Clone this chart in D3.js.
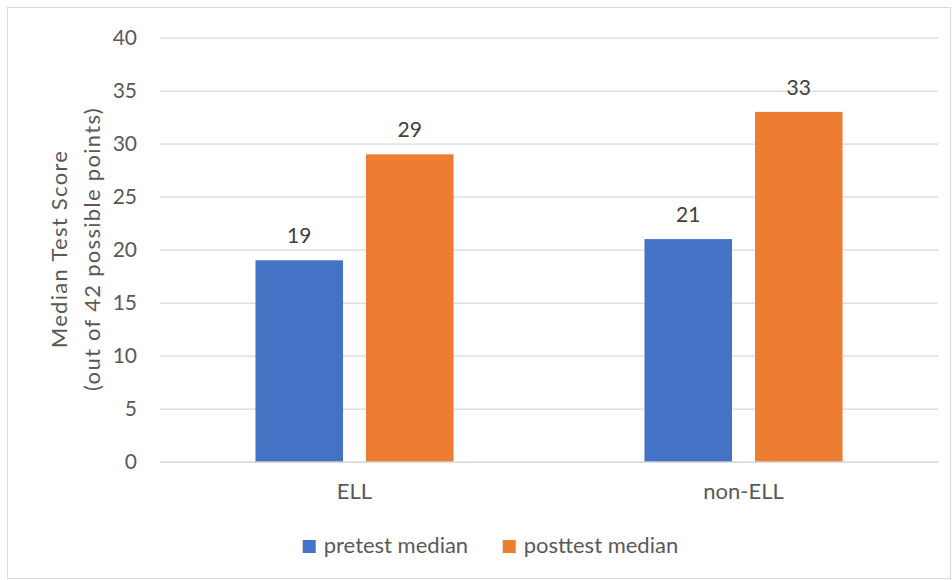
<!DOCTYPE html>
<html>
<head>
<meta charset="utf-8">
<script src="https://cdn.jsdelivr.net/npm/d3@7"></script>
<style>
  html, body { margin: 0; padding: 0; background: #fff; }
  svg { display: block; }
  text { font-family: Lato, "Open Sans", sans-serif; }
</style>
</head>
<body>
<svg id="chart" width="952" height="580"></svg>
<script>
const categories = ["ELL", "non-ELL"];
const seriesNames = ["pretest median", "posttest median"];
const pretest = [19, 21];
const posttest = [29, 33];
const yTicks = [0, 5, 10, 15, 20, 25, 30, 35, 40];
const seriesColors = ["#4472C4", "#ED7D31"];

const svg = d3.select("#chart");
const W = 952, H = 580;

// outer border
svg.append("rect")
  .attr("x", 7.5).attr("y", 7.5)
  .attr("width", W - 9).attr("height", H - 9)
  .attr("fill", "#fff").attr("stroke", "#d9d9d9").attr("stroke-width", 1);

const plot = { left: 160, right: 938, top: 37.7, bottom: 461.7 };

const y = d3.scaleLinear().domain([0, 40]).range([plot.bottom, plot.top]);
const x0 = d3.scaleBand().domain(categories).range([plot.left, plot.right]).padding(0);
const x1 = d3.scaleBand().domain(seriesNames).range([0, x0.bandwidth()])
  .paddingInner(0.208).paddingOuter(0.864);

const textColor = "#595959";
const numSize = 21;
const labelSize = 22;

// gridlines
const yAxis = d3.axisLeft(y).tickValues(yTicks).tickSize(-(plot.right - plot.left)).tickPadding(23);
const gY = svg.append("g").attr("transform", `translate(${plot.left},0)`).call(yAxis);
gY.select(".domain").remove();
gY.selectAll(".tick line").attr("stroke", "#d9d9d9").attr("stroke-width", 1.3);
gY.selectAll(".tick text").attr("fill", textColor).style("font-size", numSize + "px")
  .style("font-family", "Lato, 'Open Sans', sans-serif");

// data
const rows = categories.map((c, i) => ({ cat: c, values: [pretest[i], posttest[i]] }));

const groups = svg.append("g").selectAll("g").data(rows).join("g")
  .attr("transform", d => `translate(${x0(d.cat)},0)`);

groups.selectAll("rect").data(d => d.values.map((v, j) => ({ s: seriesNames[j], v, j })))
  .join("rect")
  .attr("x", d => x1(d.s))
  .attr("y", d => y(d.v))
  .attr("width", x1.bandwidth())
  .attr("height", d => y(0) - y(d.v))
  .attr("fill", d => seriesColors[d.j]);

groups.selectAll("text.val").data(d => d.values.map((v, j) => ({ s: seriesNames[j], v, j })))
  .join("text").attr("class", "val")
  .attr("x", d => x1(d.s) + x1.bandwidth() / 2)
  .attr("y", d => y(d.v) - 17)
  .attr("text-anchor", "middle")
  .attr("fill", "#404040")
  .style("font-size", numSize + "px")
  .text(d => d.v);

// x axis labels
const xAxis = d3.axisBottom(x0).tickSize(0).tickPadding(22);
const gX = svg.append("g").attr("transform", `translate(0,${plot.bottom})`).call(xAxis);
gX.select(".domain").attr("stroke", "#d9d9d9").attr("stroke-width", 1.3);
gX.selectAll(".tick text").attr("fill", textColor).style("font-size", labelSize + "px")
  .style("font-family", "Lato, 'Open Sans', sans-serif");

// y axis title
const title = svg.append("text")
  .attr("transform", "translate(60,249) rotate(-90)")
  .attr("text-anchor", "middle")
  .attr("fill", textColor)
  .style("letter-spacing", "1.3px")
  .style("font-size", labelSize + "px");
title.append("tspan").attr("x", 0).attr("y", 7).text("Median Test Score");
title.append("tspan").attr("x", 0).attr("y", 40).text("(out of 42 possible points)");

// legend
const legendX = [302.7, 502.7];
const leg = svg.append("g").selectAll("g").data(seriesNames).join("g")
  .attr("transform", (d, i) => `translate(${legendX[i]},540)`);
leg.append("rect").attr("width", 13).attr("height", 13).attr("fill", (d, i) => seriesColors[i]);
leg.append("text").attr("x", 21).attr("y", 12.5).attr("fill", textColor)
  .style("font-size", labelSize + "px").text(d => d);
</script>
</body>
</html>
